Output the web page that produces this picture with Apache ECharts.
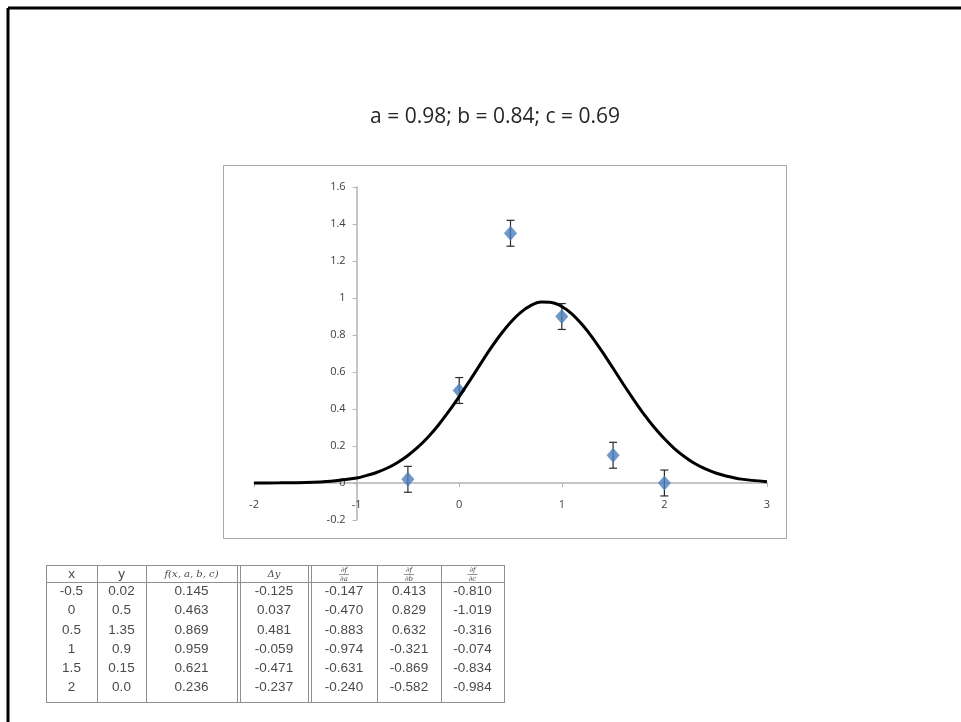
<!DOCTYPE html>
<html>
<head>
<meta charset="utf-8">
<script src="https://cdn.jsdelivr.net/npm/echarts@6/dist/echarts.min.js"></script>
<style>
  html, body { margin: 0; padding: 0; background: #fff; }
  #chart { width: 961px; height: 722px; }
</style>
</head>
<body>
<div id="chart"></div>
<script>
// measured points with error bars
const pointX = [-0.5, 0, 0.5, 1, 1.5, 2];
const pointY = [0.02, 0.5, 1.35, 0.9, 0.15, 0.0];
const errY = [0.07, 0.07, 0.07, 0.07, 0.07, 0.07];

// fitted curve
const curveX = [-2, -1.75, -1.5, -1.25, -1, -0.9, -0.8, -0.7, -0.6, -0.5, -0.4, -0.3, -0.2, -0.1,
  0, 0.1, 0.2, 0.3, 0.4, 0.5, 0.6, 0.7, 0.8, 0.9, 1, 1.1, 1.2, 1.3, 1.4, 1.5, 1.6, 1.7, 1.8, 1.9,
  2, 2.1, 2.2, 2.3, 2.4, 2.5, 2.6, 2.75, 3];
const curveY = [0.0, 0.001, 0.003, 0.01, 0.027, 0.041, 0.058, 0.081, 0.111, 0.149, 0.195, 0.25, 0.315, 0.388,
  0.467, 0.551, 0.637, 0.722, 0.8, 0.868, 0.922, 0.96, 0.978, 0.976, 0.954, 0.913, 0.855, 0.785, 0.705, 0.62, 0.534, 0.451, 0.372, 0.301,
  0.239, 0.185, 0.141, 0.104, 0.076, 0.054, 0.038, 0.021, 0.007];

const xTicks = [-2, -1, 0, 1, 2, 3];
const yTicks = [-0.2, 0, 0.2, 0.4, 0.6, 0.8, 1, 1.2, 1.4, 1.6];

const titleText = 'a = 0.98; b = 0.84; c = 0.69';

// table under the chart
const tableX = ['-0.5', '0', '0.5', '1', '1.5', '2'];
const tableY = ['0.02', '0.5', '1.35', '0.9', '0.15', '0.0'];
const tableF = ['0.145', '0.463', '0.869', '0.959', '0.621', '0.236'];
const tableDy = ['-0.125', '0.037', '0.481', '-0.059', '-0.471', '-0.237'];
const tableDa = ['-0.147', '-0.470', '-0.883', '-0.974', '-0.631', '-0.240'];
const tableDb = ['0.413', '0.829', '0.632', '-0.321', '-0.869', '-0.582'];
const tableDc = ['-0.810', '-1.019', '-0.316', '-0.074', '-0.834', '-0.984'];

const chart = echarts.init(document.getElementById('chart'));

const axisGray = '#b3b3b3';
const labelStyle = { color: '#404040', fontSize: 11, fontFamily: 'Open Sans' };

const W = 961, H = 722;
const plotLeft = 254, plotRight = 194, plotTop = 187, plotBottom = 202;
const yMin = yTicks[0], yMax = yTicks[yTicks.length - 1];
const xMin = xTicks[0], xMax = xTicks[xTicks.length - 1];
const plotW = W - plotLeft - plotRight, plotH = H - plotTop - plotBottom;
// pixel row/col where the axes cross (x axis at y=0, y axis at x=-1)
const zeroY = plotTop + plotH * (yMax - 0) / (yMax - yMin);
const crossX = plotLeft + plotW * (-1 - xMin) / (xMax - xMin);

// ---- table graphics
const colLines = [46, 97, 146, 237, 240, 308, 311, 377, 441, 504];
const cells = [[46, 97], [97, 146], [146, 237], [240, 308], [311, 377], [377, 441], [441, 504]];
const tTop = 565, tHead = 582, tBottom = 702, rowStep = 19.2, firstRow = 591.5;
const tableCols = [tableX, tableY, tableF, tableDy, tableDa, tableDb, tableDc];
const lineStyle = { stroke: '#8f8f8f', lineWidth: 1 };
const tableEls = [];
colLines.forEach(function(x) {
  tableEls.push({ type: 'line', shape: { x1: x + 0.5, y1: tTop, x2: x + 0.5, y2: tBottom }, style: lineStyle });
});
[tTop, tHead, tBottom].forEach(function(y) {
  tableEls.push({ type: 'line', shape: { x1: 46, y1: y + 0.5, x2: 505, y2: y + 0.5 }, style: lineStyle });
});
const cellText = { fill: '#4a4a4a', fontSize: 13.5, fontFamily: 'Liberation Sans', align: 'center', verticalAlign: 'middle' };
const center = function(c) { return (cells[c][0] + cells[c][1]) / 2; };
tableCols.forEach(function(col, c) {
  col.forEach(function(v, r) {
    tableEls.push({ type: 'text', x: center(c), y: firstRow + r * rowStep, style: Object.assign({ text: v }, cellText) });
  });
});
// header
const headY = (tTop + tHead) / 2 + 0.5;
const mathText = { fontFamily: 'DejaVu Serif', fontStyle: 'italic' };
tableEls.push({ type: 'text', x: center(0), y: headY, style: Object.assign({}, cellText, { text: 'x' }) });
tableEls.push({ type: 'text', x: center(1), y: headY, style: Object.assign({}, cellText, { text: 'y' }) });
tableEls.push({ type: 'text', x: center(2), y: headY, style: Object.assign({}, cellText, mathText, { text: 'f(x, a, b, c)', fontSize: 10 }) });
tableEls.push({ type: 'text', x: center(3), y: headY, style: Object.assign({}, cellText, mathText, { text: 'Δy', fontSize: 10 }) });
['a', 'b', 'c'].forEach(function(p, i) {
  const cx = center(4 + i);
  tableEls.push({ type: 'text', x: cx, y: headY - 4, style: Object.assign({}, cellText, mathText, { text: '∂f', fontSize: 7 }) });
  tableEls.push({ type: 'line', shape: { x1: cx - 5, y1: headY + 0.5, x2: cx + 5, y2: headY + 0.5 }, style: { stroke: '#777', lineWidth: 0.8 } });
  tableEls.push({ type: 'text', x: cx, y: headY + 5, style: Object.assign({}, cellText, mathText, { text: '∂' + p, fontSize: 7 }) });
});

chart.setOption({
  animation: false,
  backgroundColor: '#fff',
  grid: [
    // data grid
    { left: plotLeft, right: plotRight, top: plotTop, bottom: plotBottom, outerBoundsMode: 'none' },
    // grid carrying the vertical axis at x = -1
    { left: crossX, right: plotRight, top: plotTop, bottom: plotBottom, outerBoundsMode: 'none' },
    // grid carrying the horizontal axis at y = 0
    { left: plotLeft, right: plotRight, top: plotTop, bottom: H - zeroY, outerBoundsMode: 'none' }
  ],
  xAxis: [
    { type: 'value', gridIndex: 0, min: xMin, max: xMax, show: false },
    { type: 'value', gridIndex: 1, min: -1, max: xMax, show: false },
    {
      type: 'value', gridIndex: 2, min: xMin, max: xMax, interval: 1,
      axisLine: { onZero: false, lineStyle: { color: axisGray, width: 1.5 } },
      axisTick: { length: 4, lineStyle: { color: axisGray } },
      axisLabel: Object.assign({ margin: 16 }, labelStyle),
      splitLine: { show: false }
    }
  ],
  yAxis: [
    { type: 'value', gridIndex: 0, min: yMin, max: yMax, show: false },
    {
      type: 'value', gridIndex: 1, min: yMin, max: yMax, interval: 0.2,
      axisLine: { show: true, onZero: false, lineStyle: { color: axisGray, width: 1.5 } },
      axisTick: { show: true, length: 4, lineStyle: { color: axisGray } },
      axisLabel: Object.assign({ margin: 11 }, labelStyle),
      splitLine: { show: false }
    },
    { type: 'value', gridIndex: 2, min: 0, max: yMax, show: false }
  ],
  series: [
    {
      type: 'custom',
      xAxisIndex: 0, yAxisIndex: 0,
      z: 2,
      data: pointX.map(function(x, i) { return [x, pointY[i] - errY[i], pointY[i] + errY[i]]; }),
      encode: { x: 0, y: [1, 2] },
      renderItem: function(params, api) {
        const x = api.value(0);
        const top = api.coord([x, api.value(2)]);
        const bot = api.coord([x, api.value(1)]);
        const cap = 4;
        const st = { stroke: '#2a2a2a', lineWidth: 1.2 };
        return {
          type: 'group',
          children: [
            { type: 'line', shape: { x1: top[0], y1: top[1], x2: bot[0], y2: bot[1] }, style: st },
            { type: 'line', shape: { x1: top[0] - cap, y1: top[1], x2: top[0] + cap, y2: top[1] }, style: st },
            { type: 'line', shape: { x1: bot[0] - cap, y1: bot[1], x2: bot[0] + cap, y2: bot[1] }, style: st }
          ]
        };
      }
    },
    {
      type: 'scatter',
      xAxisIndex: 0, yAxisIndex: 0,
      z: 3,
      symbol: 'diamond',
      symbolSize: [13, 15],
      itemStyle: { color: '#4a7ebb' },
      data: pointX.map(function(x, i) { return [x, pointY[i]]; })
    },
    {
      type: 'line',
      xAxisIndex: 0, yAxisIndex: 0,
      z: 4,
      smooth: 0.3,
      showSymbol: false,
      lineStyle: { color: '#000', width: 3 },
      data: curveX.map(function(x, i) { return [x, curveY[i]]; })
    }
  ],
  graphic: [
    { type: 'line', z: -1, shape: { x1: 8, y1: 8, x2: W, y2: 8 }, style: { stroke: '#000', lineWidth: 3 } },
    { type: 'line', z: -1, shape: { x1: 8, y1: 8, x2: 8, y2: H }, style: { stroke: '#000', lineWidth: 3 } },
    { type: 'rect', z: -1, shape: { x: 223.5, y: 165.5, width: 563, height: 373 }, style: { fill: '#fff', stroke: '#a8a8a8', lineWidth: 1 } },
    { type: 'text', x: 495, y: 117, style: { text: titleText, fill: '#262626', fontSize: 21, fontFamily: 'Open Sans', align: 'center', verticalAlign: 'middle' } },
    { type: 'group', children: tableEls }
  ]
});
</script>
</body>
</html>
